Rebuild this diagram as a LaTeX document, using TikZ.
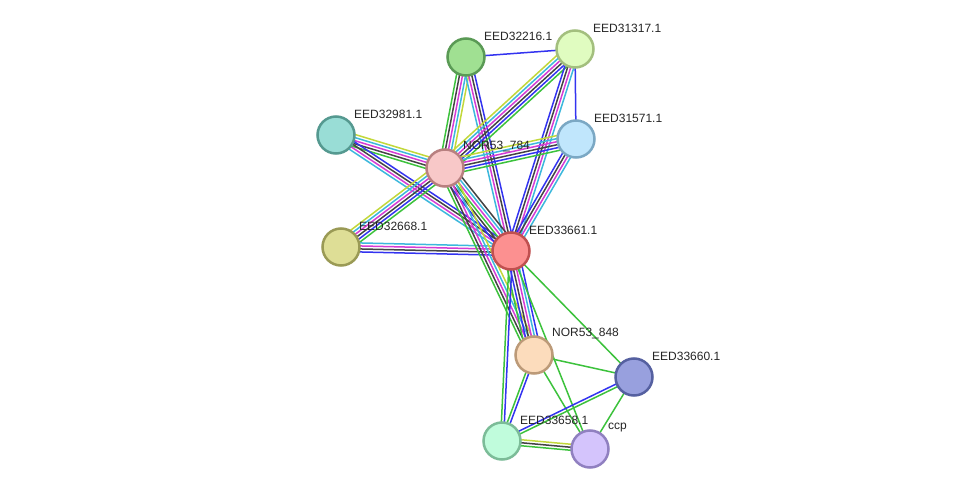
\documentclass[tikz,border=0pt]{standalone}
\usepackage{fontspec}
\setmainfont{Liberation Sans}
\usetikzlibrary{calc}
\pgfdeclarelayer{background}
\pgfsetlayers{background,main}
\definecolor{cgreen}{HTML}{3CC23C}
\definecolor{cblue}{HTML}{3333F0}
\definecolor{cblack}{HTML}{444444}
\definecolor{cmag}{HTML}{D53CD5}
\definecolor{ccyan}{HTML}{3CB8DC}
\definecolor{cyel}{HTML}{C2D83A}
% one line of a bundle: from, to, offset (pt), colour
\newcommand{\bl}[4]{\draw[edgeline,#4] ($(#1)!#3pt!90:(#2)$) -- ($(#2)!#3pt!-90:(#1)$);}
\tikzset{
  prot/.style={circle, minimum size=37pt, inner sep=0pt, line width=2.5pt},
  lbl/.style={anchor=west, inner sep=0pt, font=\fontsize{12}{14}\selectfont, text=black!85},
  edgeline/.style={line width=1.5pt},
}
\begin{document}
\begin{tikzpicture}[x=1pt,y=-1pt]
\useasboundingbox (0,0) rectangle (975,495);
% nodes
\node[prot, fill={rgb,255:red,160;green,224;blue,146}, draw={rgb,255:red,90;green,154;blue,85}] (a16) at (466,57) {};
\node[prot, fill={rgb,255:red,224;green,252;blue,192}, draw={rgb,255:red,163;green,191;blue,126}] (a17) at (575,49) {};
\node[prot, fill={rgb,255:red,153;green,221;blue,214}, draw={rgb,255:red,85;green,153;blue,144}] (a81) at (336,135) {};
\node[prot, fill={rgb,255:red,192;green,230;blue,252}, draw={rgb,255:red,123;green,168;blue,196}] (a71) at (576,139) {};
\node[prot, fill={rgb,255:red,248;green,200;blue,200}, draw={rgb,255:red,184;green,128;blue,128}] (n784) at (445,168) {};
\node[prot, fill={rgb,255:red,222;green,222;blue,150}, draw={rgb,255:red,154;green,154;blue,85}] (a68) at (341,247) {};
\node[prot, fill={rgb,255:red,252;green,144;blue,144}, draw={rgb,255:red,192;green,80;blue,80}] (a61) at (511,251) {};
\node[prot, fill={rgb,255:red,252;green,220;blue,188}, draw={rgb,255:red,188;green,154;blue,120}] (n848) at (534,355) {};
\node[prot, fill={rgb,255:red,152;green,160;blue,222}, draw={rgb,255:red,85;green,96;blue,160}] (a60) at (634,377) {};
\node[prot, fill={rgb,255:red,192;green,252;blue,220}, draw={rgb,255:red,124;green,188;blue,152}] (a58) at (502,441) {};
\node[prot, fill={rgb,255:red,212;green,196;blue,252}, draw={rgb,255:red,144;green,128;blue,192}] (ccp) at (590,449) {};
% labels
\node[lbl] (l16) at ($(a16)+(18,-21)$) {EED32216.1};
\node[lbl] (l17) at ($(a17)+(18,-21)$) {EED31317.1};
\node[lbl] (l81) at ($(a81)+(18,-21)$) {EED32981.1};
\node[lbl] (l71) at ($(a71)+(18,-21)$) {EED31571.1};
\node[lbl] (l784) at ($(n784)+(18,-21)$) {NOR53\_784};
\node[lbl] (l68) at ($(a68)+(18,-21)$) {EED32668.1};
\node[lbl] (l61) at ($(a61)+(18,-21)$) {EED33661.1};
\node[lbl] (l848) at ($(n848)+(18,-21)$) {NOR53\_848};
\node[lbl] (l60) at ($(a60)+(18,-21)$) {EED33660.1};
\node[lbl] (l58) at ($(a58)+(18,-21)$) {EED33658.1};
\node[lbl] (lccp) at ($(ccp)+(18,-21)$) {ccp};
% edges
\begin{pgfonlayer}{background}
\fill[white] (0,0) rectangle (975,495);
\bl{a16}{a17}{0}{cblue}
\bl{a17}{a71}{0}{cblue}
% a16 - n784
\bl{a16}{n784}{-6}{cgreen}\bl{a16}{n784}{-3}{cblack}\bl{a16}{n784}{0}{cmag}\bl{a16}{n784}{3}{ccyan}\bl{a16}{n784}{6}{cyel}
% a16 - a61
\bl{a16}{a61}{-4.5}{ccyan}\bl{a16}{a61}{-1.5}{cmag}\bl{a16}{a61}{1.5}{cblack}\bl{a16}{a61}{4.5}{cblue}
% a17 - n784
\bl{a17}{n784}{-7.5}{cyel}\bl{a17}{n784}{-4.5}{ccyan}\bl{a17}{n784}{-1.5}{cmag}\bl{a17}{n784}{1.5}{cblack}\bl{a17}{n784}{4.5}{cblue}\bl{a17}{n784}{7.5}{cgreen}
% a17 - a61
\bl{a17}{a61}{-4.5}{cblue}\bl{a17}{a61}{-1.5}{cblack}\bl{a17}{a61}{1.5}{cmag}\bl{a17}{a61}{4.5}{ccyan}
% a71 - n784
\bl{a71}{n784}{-7.5}{cyel}\bl{a71}{n784}{-4.5}{ccyan}\bl{a71}{n784}{-1.5}{cmag}\bl{a71}{n784}{1.5}{cblack}\bl{a71}{n784}{4.5}{cblue}\bl{a71}{n784}{7.5}{cgreen}
% a71 - a61
\bl{a71}{a61}{-4.5}{cblue}\bl{a71}{a61}{-1.5}{cblack}\bl{a71}{a61}{1.5}{cmag}\bl{a71}{a61}{4.5}{ccyan}
% a81 - n784
\bl{a81}{n784}{-6}{cgreen}\bl{a81}{n784}{-3}{cblack}\bl{a81}{n784}{0}{cmag}\bl{a81}{n784}{3}{ccyan}\bl{a81}{n784}{6}{cyel}
% a81 - a61
\bl{a81}{a61}{-4.5}{ccyan}\bl{a81}{a61}{-1.5}{cmag}\bl{a81}{a61}{1.5}{cblack}\bl{a81}{a61}{4.5}{cblue}
% a68 - n784
\bl{a68}{n784}{-7.5}{cgreen}\bl{a68}{n784}{-4.5}{cblue}\bl{a68}{n784}{-1.5}{cblack}\bl{a68}{n784}{1.5}{cmag}\bl{a68}{n784}{4.5}{ccyan}\bl{a68}{n784}{7.5}{cyel}
% a68 - a61
\bl{a68}{a61}{-4.5}{cblue}\bl{a68}{a61}{-1.5}{cblack}\bl{a68}{a61}{1.5}{cmag}\bl{a68}{a61}{4.5}{ccyan}
% n784 - a61
\bl{n784}{a61}{-7.5}{cblue}\bl{n784}{a61}{-4.5}{cblack}\bl{n784}{a61}{-1.5}{cgreen}\bl{n784}{a61}{1.5}{cmag}\bl{n784}{a61}{4.5}{ccyan}\bl{n784}{a61}{7.5}{cblack}
% n784 - n848
\bl{n784}{n848}{-6}{cgreen}\bl{n784}{n848}{-3}{cblack}\bl{n784}{n848}{0}{cmag}\bl{n784}{n848}{3}{ccyan}\bl{n784}{n848}{6}{cyel}
% a61 - n848
\bl{a61}{n848}{-7.5}{cgreen}\bl{a61}{n848}{-4.5}{cblue}\bl{a61}{n848}{-1.5}{cblack}\bl{a61}{n848}{1.5}{cmag}\bl{a61}{n848}{4.5}{ccyan}\bl{a61}{n848}{7.5}{cblue}
% others
\bl{a61}{a58}{-1.5}{cgreen}\bl{a61}{a58}{1.5}{cblue}
\bl{a61}{a60}{0}{cgreen}
\bl{a61}{ccp}{0}{cgreen}
\bl{n848}{a60}{0}{cgreen}
\bl{n848}{ccp}{0}{cgreen}
\bl{n848}{a58}{-1.5}{cgreen}\bl{n848}{a58}{1.5}{cblue}
\bl{a58}{a60}{-1.5}{cgreen}\bl{a58}{a60}{1.5}{cblue}
\bl{a58}{ccp}{-3}{cgreen}\bl{a58}{ccp}{0}{cblack}\bl{a58}{ccp}{3}{cyel}
\bl{a60}{ccp}{0}{cgreen}
\end{pgfonlayer}
\end{tikzpicture}
\end{document}
